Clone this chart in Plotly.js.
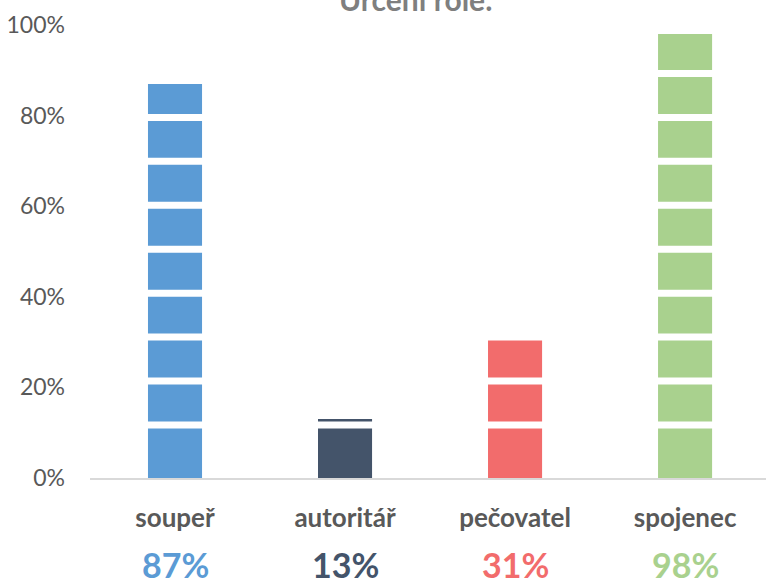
<!DOCTYPE html>
<html>
<head>
<meta charset="utf-8">
<script src="https://cdn.plot.ly/plotly-3.0.1.min.js"></script>
<style>html,body{margin:0;padding:0;background:#fff;}#chart{width:766px;height:585px;}</style>
</head>
<body>
<div id="chart"></div>
<script>
// Data
const categories = ["soupeř", "autoritář", "pečovatel", "spojenec"];
const values = [87, 13, 31, 98];
const colors = ["#5b9bd5", "#44546a", "#f26c6c", "#a9d18e"];
const yTicks = [0, 20, 40, 60, 80, 100];
// Positions (in %) of the white breaks between pictograph units
const segmentBreaks = [11.7, 21.4, 31.1, 40.8, 50.5, 60.2, 69.9, 79.6, 89.3];
const breakHalf = 0.8;

const bars = {
  type: "bar",
  x: categories,
  y: values,
  marker: { color: colors, line: { width: 0 } },
  hoverinfo: "skip",
  showlegend: false
};

const bx = [], by = [];
categories.forEach((c, i) => {
  segmentBreaks.forEach(b => {
    if (b - breakHalf < values[i]) { bx.push(c); by.push(b); }
  });
});
const breaks = {
  type: "scatter",
  mode: "markers",
  x: bx,
  y: by,
  marker: { symbol: "line-ew-open", size: 62, color: "#ffffff", line: { color: "#ffffff", width: 7 } },
  hoverinfo: "skip",
  showlegend: false,
  cliponaxis: false
};

const annotations = categories.map((c, i) => ({
  x: c, xref: "x", y: 0, yref: "paper", yanchor: "middle", yshift: -86,
  text: values[i] + "%", showarrow: false,
  font: { family: "Lato, sans-serif", size: 34, color: colors[i], weight: "bold" }
}));

const layout = {
  width: 766, height: 585,
  margin: { l: 90, r: 0, t: 25, b: 107 },
  paper_bgcolor: "#ffffff", plot_bgcolor: "#ffffff",
  bargap: 0.682,
  title: {
    text: "Určení role:", x: 0.543, xanchor: "center", xref: "container",
    y: 1, yref: "container", yanchor: "middle",
    font: { family: "Lato, sans-serif", size: 30, color: "#7f7f7f", weight: "bold" }
  },
  xaxis: {
    range: [-0.5, 3.476], type: "category",
    showline: true, linecolor: "#d9d9d9", linewidth: 2,
    showgrid: false, zeroline: false, ticks: "",
    ticklabelstandoff: 16,
    tickfont: { family: "Lato, sans-serif", size: 26, color: "#595959", weight: "bold" }
  },
  yaxis: {
    range: [0, 100], tickvals: yTicks, ticktext: yTicks.map(v => v + "%"),
    showline: false, showgrid: false, zeroline: false, ticks: "",
    ticklabelstandoff: 24,
    tickfont: { family: "Lato, sans-serif", size: 23, color: "#595959" }
  },
  annotations: annotations
};

Plotly.newPlot("chart", [bars, breaks], layout, { displayModeBar: false, staticPlot: true });
</script>
</body>
</html>
